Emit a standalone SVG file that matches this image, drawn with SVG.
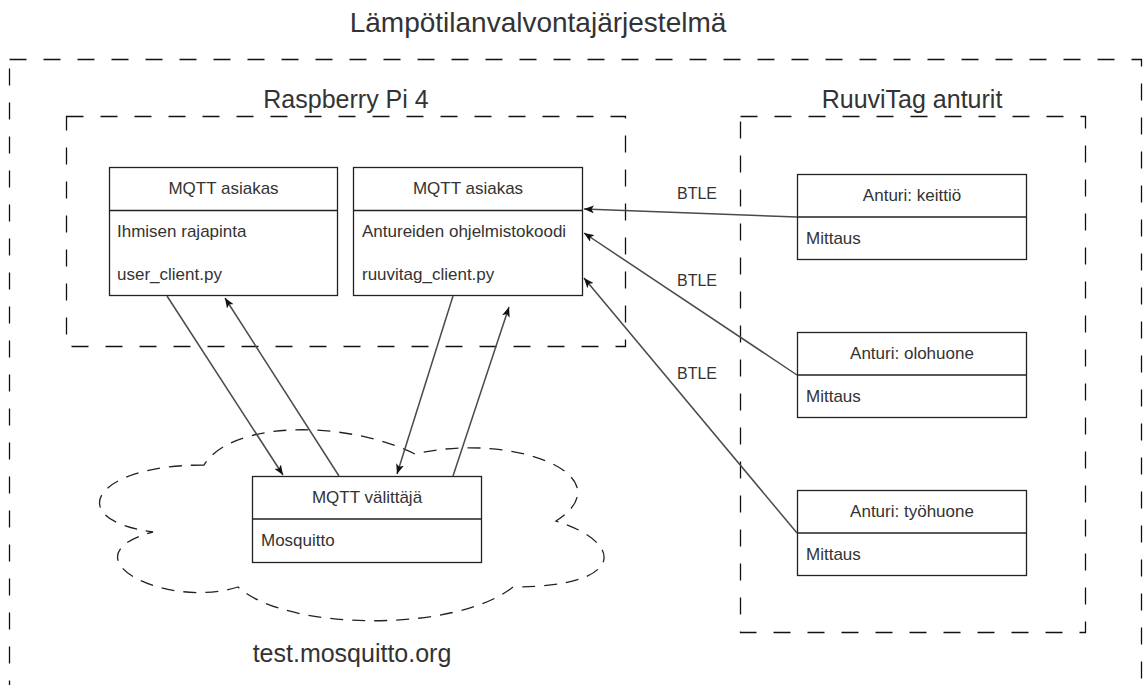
<svg xmlns="http://www.w3.org/2000/svg" width="1143" height="685" viewBox="0 0 1143 685">
<style>
.lbl{font-family:"Liberation Sans",Arial,sans-serif;fill:#333}
.big{font-size:25px;text-anchor:middle}
.hd{font-size:17px;text-anchor:middle}
.bd{font-size:17px}
.box{fill:#fff;stroke:#222;stroke-width:1.3}
.grp{fill:none;stroke:#111;stroke-width:1.3;stroke-dasharray:17 17}
.cloud{fill:none;stroke:#222;stroke-width:1.3;stroke-dasharray:13 9}
.edge{fill:none;stroke:#4a4a4a;stroke-width:1.5}
.el{font-family:"Liberation Sans",Arial,sans-serif;fill:#333;font-size:16px;text-anchor:middle}
</style>
<defs>
<marker id="ah" viewBox="0 0 10 8" refX="10" refY="4" markerWidth="10" markerHeight="8" markerUnits="userSpaceOnUse" orient="auto">
<path d="M0,0 L10,4 L0,8 L2.5,4 Z" fill="#111"/>
</marker>
</defs>
<rect width="1143" height="685" fill="#fff"/>

<g id="system">
<rect class="grp" x="9.5" y="59.5" width="1132" height="700"/>
<text class="lbl big" x="538" y="32" style="font-size:28px">Lämpötilanvalvontajärjestelmä</text>
</g>

<g id="raspberry">
<rect class="grp" x="66.5" y="116.5" width="559" height="230"/>
<text class="lbl big" x="346" y="108">Raspberry Pi 4</text>
</g>

<g id="ruuvitag">
<rect class="grp" x="740.5" y="116.5" width="345" height="516"/>
<text class="lbl big" x="912" y="108">RuuviTag anturit</text>
</g>

<g id="cloud">
<path class="cloud" d="M204,465 C91,465 63,520 153,532 C63,556 164,610 238,587 C288,632 457,632 513,587 C626,587 626,543 556,521 C626,476 513,431 415,454 C345,420 232,420 204,465 Z"/>
<text class="lbl big" x="352" y="662">test.mosquitto.org</text>
</g>

<g id="client-user">
<rect class="box" x="109.5" y="167.5" width="228" height="128"/>
<line x1="109.5" y1="210.5" x2="337.5" y2="210.5" stroke="#222" stroke-width="1.3"/>
<text class="lbl hd" x="223.5" y="194">MQTT asiakas</text>
<text class="lbl bd" x="117" y="237">Ihmisen rajapinta</text>
<text class="lbl bd" x="117" y="280">user_client.py</text>
</g>

<g id="client-ruuvi">
<rect class="box" x="353.5" y="167.5" width="229" height="128"/>
<line x1="353.5" y1="210.5" x2="582.5" y2="210.5" stroke="#222" stroke-width="1.3"/>
<text class="lbl hd" x="468" y="194">MQTT asiakas</text>
<text class="lbl bd" x="362" y="237">Antureiden ohjelmistokoodi</text>
<text class="lbl bd" x="362" y="280">ruuvitag_client.py</text>
</g>

<g id="broker">
<rect class="box" x="252.5" y="476.5" width="229" height="86"/>
<line x1="252.5" y1="519" x2="481.5" y2="519" stroke="#222" stroke-width="1.3"/>
<text class="lbl hd" x="367" y="503">MQTT välittäjä</text>
<text class="lbl bd" x="261" y="546">Mosquitto</text>
</g>

<g id="sensor-keittio">
<rect class="box" x="797.5" y="174.5" width="229" height="85"/>
<line x1="797.5" y1="217" x2="1026.5" y2="217" stroke="#222" stroke-width="1.3"/>
<text class="lbl hd" x="912" y="201">Anturi: keittiö</text>
<text class="lbl bd" x="806" y="244">Mittaus</text>
</g>

<g id="sensor-olohuone">
<rect class="box" x="797.5" y="332.5" width="229" height="85"/>
<line x1="797.5" y1="375" x2="1026.5" y2="375" stroke="#222" stroke-width="1.3"/>
<text class="lbl hd" x="912" y="359">Anturi: olohuone</text>
<text class="lbl bd" x="806" y="402">Mittaus</text>
</g>

<g id="sensor-tyohuone">
<rect class="box" x="797.5" y="490.5" width="229" height="85"/>
<line x1="797.5" y1="533" x2="1026.5" y2="533" stroke="#222" stroke-width="1.3"/>
<text class="lbl hd" x="912" y="517">Anturi: työhuone</text>
<text class="lbl bd" x="806" y="560">Mittaus</text>
</g>

<g id="connectors">
<line class="edge" x1="167" y1="296" x2="283" y2="475" marker-end="url(#ah)"/>
<line class="edge" x1="339" y1="476" x2="225" y2="298" marker-end="url(#ah)"/>
<line class="edge" x1="453" y1="296" x2="397" y2="474" marker-end="url(#ah)"/>
<line class="edge" x1="453" y1="476" x2="509" y2="307" marker-end="url(#ah)"/>
<line class="edge" x1="797" y1="217" x2="584" y2="209" marker-end="url(#ah)"/>
<line class="edge" x1="797" y1="375" x2="584" y2="233" marker-end="url(#ah)"/>
<line class="edge" x1="797" y1="533" x2="584" y2="278" marker-end="url(#ah)"/>
<text class="el" x="697" y="199">BTLE</text>
<text class="el" x="697" y="286">BTLE</text>
<text class="el" x="697" y="379">BTLE</text>
</g>
</svg>
